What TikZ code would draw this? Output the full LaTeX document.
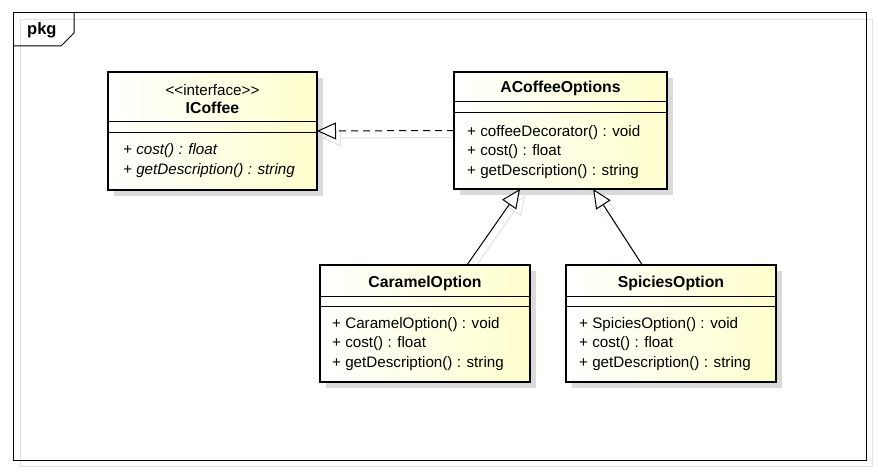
\documentclass[tikz,border=0pt]{standalone}
\usepackage{fontspec}
\setmainfont{Liberation Sans}
\usetikzlibrary{arrows.meta,calc}
\definecolor{ylw}{RGB}{255,255,205}
\definecolor{shd}{RGB}{218,218,218}
\definecolor{lshd}{RGB}{225,225,225}
\pgfdeclarelayer{bg}
\pgfsetlayers{bg,main}
\newcommand{\fs}{\fontsize{15.2}{17}\selectfont}
\tikzset{
  classbox/.style={draw=black, line width=2.6pt, left color=white, right color=ylw, anchor=north west, inner sep=0pt, outer sep=0pt},
  sep/.style={draw=black, line width=1pt},
  txt/.style={inner sep=0pt, font=\fs},
  meth/.style={txt, anchor=west, yshift=-1pt},
  ttl/.style={txt, font=\fontsize{15.8}{17}\selectfont\bfseries},
  boxshadow/.style={fill=shd, draw=none},
  gen/.style={draw=black, line width=1pt, -{Triangle[open, length=19pt, width=17pt, fill=white]}},
  realize/.style={gen, dash pattern=on 7pt off 5pt},
  lineshadow/.style={draw=lshd, line width=1pt, -{Triangle[open, length=19pt, width=17pt, fill=white]}, transform canvas={shift={(5pt,-7pt)}}},
}
\begin{document}
\begin{tikzpicture}[x=1pt,y=-1pt]
\useasboundingbox (0,0) rectangle (878,473);
% frame
\draw[draw=lshd, line width=1pt] (20,20) rectangle (872,466);
\draw[draw=black, line width=1pt] (13,13) rectangle (866,460);
\draw[draw=black, line width=1pt] (13,46) -- (61,46) -- (74,33) -- (74,13);
\node[txt, font=\fontsize{16.5}{18}\selectfont\bfseries, anchor=west] (pkg) at (27,30) {pkg};

% boxes
\node[classbox, minimum width=209pt, minimum height=118pt] (ic) at (108,72) {};
\node[classbox, minimum width=213pt, minimum height=117pt] (ao) at (454,72) {};
\node[classbox, minimum width=210pt, minimum height=117pt] (co) at (320,265) {};
\node[classbox, minimum width=210pt, minimum height=117pt] (so) at (566,265) {};

% separators
\draw[sep] (ic.west |- 0,122) -- (ic.east |- 0,122);
\draw[sep] (ic.west |- 0,133) -- (ic.east |- 0,133);
\draw[sep] (ao.west |- 0,102) -- (ao.east |- 0,102);
\draw[sep] (ao.west |- 0,113) -- (ao.east |- 0,113);
\draw[sep] (co.west |- 0,296.5) -- (co.east |- 0,296.5);
\draw[sep] (co.west |- 0,306.5) -- (co.east |- 0,306.5);
\draw[sep] (so.west |- 0,296.5) -- (so.east |- 0,296.5);
\draw[sep] (so.west |- 0,306.5) -- (so.east |- 0,306.5);

% texts
\node[txt] (icst) at (212.5,90) {{<}{<}interface{>}{>}};
\node[ttl] (icn) at (212.5,108) {ICoffee};
\node[meth, font=\fs\itshape] (icm1) at (123,150) {+ cost() : float};
\node[meth, font=\fs\itshape] (icm2) at (123,170) {+ getDescription() : string};

\node[ttl] (aon) at (560.5,88) {ACoffeeOptions};
\node[meth] (aom1) at (467,131.5) {+ coffeeDecorator() : void};
\node[meth] (aom2) at (467,151) {+ cost() : float};
\node[meth] (aom3) at (467,170.5) {+ getDescription() : string};

\node[ttl] (con) at (425,283) {CaramelOption};
\node[meth] (com1) at (332,323.5) {+ CaramelOption() : void};
\node[meth] (com2) at (332,343) {+ cost() : float};
\node[meth] (com3) at (332,362.5) {+ getDescription() : string};

\node[ttl] (son) at (671,283) {SpiciesOption};
\node[meth] (som1) at (579,323.5) {+ SpiciesOption() : void};
\node[meth] (som2) at (579,343) {+ cost() : float};
\node[meth] (som3) at (579,362.5) {+ getDescription() : string};

% connector end points
\coordinate (cs) at ($(co.north west)!0.7!(co.north east)$);
\coordinate (ct) at ($(ao.south west)!0.31!(ao.south east)$);
\coordinate (ss) at ($(so.north west)!0.363!(so.north east)$);
\coordinate (st) at ($(ao.south west)!0.653!(ao.south east)$);

% shadows
\begin{pgfonlayer}{bg}
  \fill[boxshadow] ($(ic.north west)+(6,6)$) rectangle ($(ic.south east)+(6,6)$);
  \fill[boxshadow] ($(ao.north west)+(6,6)$) rectangle ($(ao.south east)+(6,6)$);
  \fill[boxshadow] ($(co.north west)+(6,6)$) rectangle ($(co.south east)+(6,6)$);
  \fill[boxshadow] ($(so.north west)+(6,6)$) rectangle ($(so.south east)+(6,6)$);
  \draw[lineshadow] (ao.west) -- (ic.east);
  \draw[lineshadow] (cs) -- (ct);
  \draw[lineshadow] (ss) -- (st);
\end{pgfonlayer}

% connectors
\draw[realize] (ao.west) -- (ic.east);
\draw[gen] (cs) -- (ct);
\draw[gen] (ss) -- (st);
\end{tikzpicture}
\end{document}
